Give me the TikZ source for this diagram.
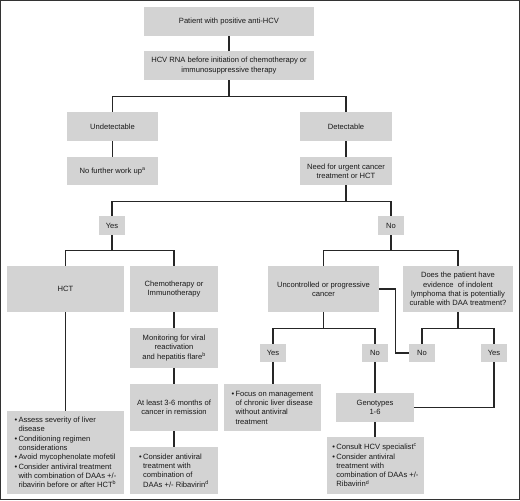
\documentclass[tikz,border=0pt]{standalone}
\usepackage{fontspec}
\setmainfont{Liberation Sans}
\usepackage{xcolor}
\usetikzlibrary{calc}

\definecolor{boxgray}{HTML}{D3D3D3}
\newcommand{\bul}{\textbullet\kern1.2pt}
\newcommand{\ind}{\hphantom{\bul}}

\begin{document}
\begin{tikzpicture}[x=1pt,y=-1pt,
    box/.style={fill=boxgray, inner sep=0pt, align=center,
      font=\fontsize{7.6}{9.3}\selectfont, text=black!90},
    list/.style={box, align=left},
    link/.style={line width=1.2pt, black!85}]
  \useasboundingbox (0,0) rectangle (520,501);
  \draw[line width=1.3pt, black!80] (0.8,0.8) rectangle (519.2,499.6);

  % Screening
  \node[box, minimum width=170pt, minimum height=29pt] (patient) at (229,21.5)
    {Patient with positive anti-HCV};
  \node[box, minimum width=170pt, minimum height=29pt] (rna) at (229,65.5)
    {HCV RNA before initiation of chemotherapy or\\immunosuppressive therapy};
  \node[box, minimum width=91pt, minimum height=29pt] (undetect) at (112.5,126.5)
    {Undetectable};
  \node[box, minimum width=92pt, minimum height=29pt] (detect) at (346,126.5)
    {Detectable};
  \node[box, minimum width=91pt, minimum height=28pt] (nowork) at (112.5,171)
    {No further work up\textsuperscript{a}};
  \node[box, minimum width=92pt, minimum height=28pt] (urgent) at (346,171)
    {Need for urgent cancer\\treatment or HCT};
  \node[box, minimum width=26pt, minimum height=19pt] (yesurg) at (112,225.5) {Yes};
  \node[box, minimum width=26pt, minimum height=19pt] (nourg) at (391,225.5) {No};

  % Urgent treatment
  \node[box, minimum width=117pt, minimum height=46pt] (hct) at (65.5,289) {HCT};
  \node[box, minimum width=88pt, minimum height=46pt] (chemo) at (174,289)
    {Chemotherapy or\\Immunotherapy};
  \node[box, minimum width=88pt, minimum height=40pt] (monitor) at (174,348)
    {Monitoring for viral\\reactivation\\and hepatitis flare\textsuperscript{b}};
  \node[box, minimum width=88pt, minimum height=47pt] (remission) at (174,407.5)
    {At least 3-6 months of\\cancer in remission};
  \node[list, minimum width=117pt, minimum height=83pt] (hctcare) at (65.5,452.5)
    {\bul Assess severity of liver\\\ind disease\\\bul Conditioning regimen\\\ind considerations\\
     \bul Avoid mycophenolate mofetil\\\bul Consider antiviral treatment\\
     \ind with combination of DAAs +/-\\\ind ribavirin before or after HCT\textsuperscript{b}};
  \node[list, minimum width=88pt, minimum height=47pt] (antiviral) at (174,470.5)
    {\bul Consider antiviral\\\ind treatment with\\\ind combination of\\\ind DAAs +/- Ribavirin\textsuperscript{d}};

  % No urgent treatment
  \node[box, minimum width=111pt, minimum height=46pt] (uncontr) at (323.5,289)
    {Uncontrolled or progressive\\cancer};
  \node[box, minimum width=110pt, minimum height=46pt] (indolent) at (458,289)
    {Does the patient have\\evidence \ of indolent\\lymphoma that is potentially\\curable with DAA treatment?};
  \node[box, minimum width=26pt, minimum height=18pt] (yesunc) at (273,353) {Yes};
  \node[box, minimum width=26pt, minimum height=18pt] (nounc) at (375,353) {No};
  \node[box, minimum width=26pt, minimum height=18pt] (noind) at (422,353) {No};
  \node[box, minimum width=26pt, minimum height=18pt] (yesind) at (494,353) {Yes};
  \node[list, minimum width=97pt, minimum height=47pt] (focus) at (272.5,407.5)
    {\bul Focus on management\\\ind of chronic liver disease\\\ind without antiviral\\\ind treatment};
  \node[box, minimum width=78pt, minimum height=29pt] (geno) at (375,407.5)
    {Genotypes\\1-6};
  \node[list, minimum width=97pt, minimum height=57pt] (consult) at (375.5,465.5)
    {\bul Consult HCV specialist\textsuperscript{c}\\\bul Consider antiviral\\\ind treatment with\\
     \ind combination of DAAs +/-\\\ind Ribavirin\textsuperscript{d}};

  % Connectors
  \draw[link] (patient) -- (rna);
  \draw[link] (rna.south) -- ++(0,16) coordinate (j1);
  \draw[link] (undetect.north) |- (j1) -| (detect.north);
  \draw[link] (undetect) -- (nowork);
  \draw[link] (detect) -- (urgent);
  \draw[link] (urgent.south) -- ++(0,16) coordinate (j2);
  \draw[link] (yesurg.north) |- (j2) -| (nourg.north);
  \draw[link] (yesurg.south) -- ++(0,15) coordinate (j3);
  \draw[link] (hct.north) |- (j3) -| (chemo.north);
  \draw[link] (hct) -- (hctcare);
  \draw[link] (chemo) -- (monitor);
  \draw[link] (monitor) -- (remission);
  \draw[link] (remission) -- (antiviral);
  \draw[link] (nourg.south) -- ++(0,15) coordinate (j4);
  \draw[link] (uncontr.north) |- (j4) -| (indolent.north);
  \draw[link] (uncontr.south) -- ++(0,16) coordinate (j5);
  \draw[link] (yesunc.north) |- (j5) -| (nounc.north);
  \draw[link] (uncontr.east) -- ++(16,0) |- (noind.west);
  \draw[link] (indolent.south) -- ++(0,16) coordinate (j6);
  \draw[link] (noind.north) |- (j6) -| (yesind.north);
  \draw[link] (yesunc.south) -- (yesunc.south |- focus.north);
  \draw[link] (nounc) -- (geno);
  \draw[link] (yesind.south) |- (geno.east);
  \draw[link] (geno.south) -- (geno.south |- consult.north);
\end{tikzpicture}
\end{document}
